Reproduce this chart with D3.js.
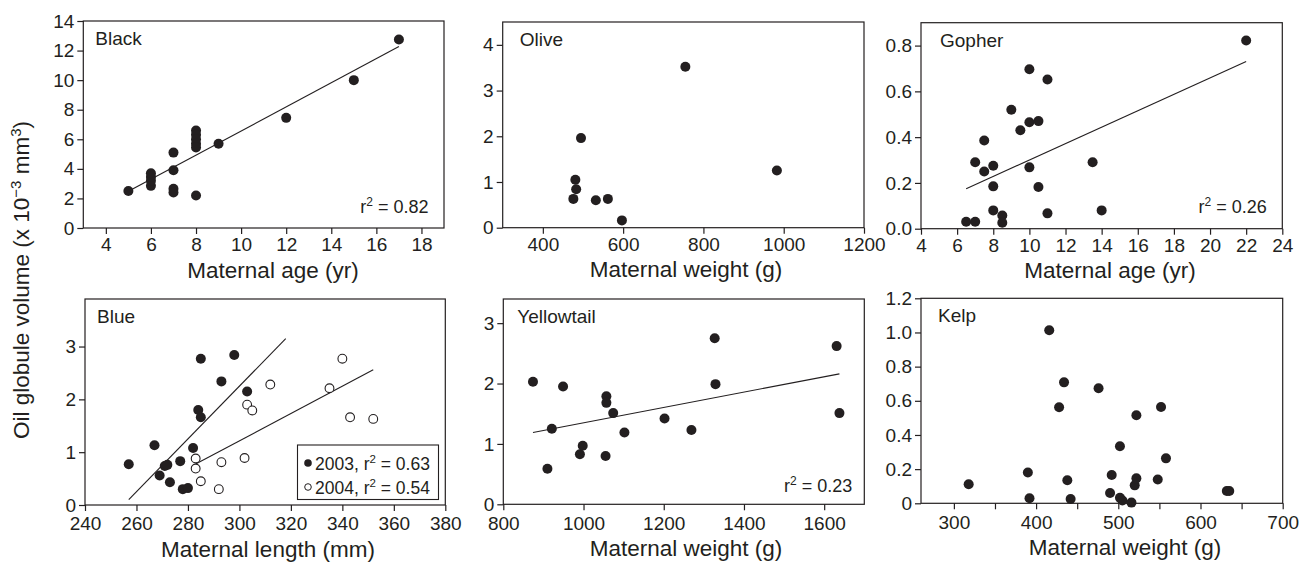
<!DOCTYPE html>
<html>
<head>
<meta charset="utf-8">
<script src="https://cdn.jsdelivr.net/npm/d3@7"></script>
<style>
  body { margin: 0; background: #fff; }
  svg text { font-family: "Liberation Sans", Arial, sans-serif; fill: #231f20; }
</style>
</head>
<body>
<svg id="chart" width="1308" height="563"></svg>
<script>
// ---- data ----
const blackAge = [5, 6, 6, 6, 6, 7, 7, 7, 7, 8, 8, 8, 8, 8, 8, 9, 12, 15, 17];
const blackVol = [2.5, 2.85, 3.2, 3.45, 3.7, 5.1, 3.9, 2.65, 2.4, 6.6, 6.3, 6.0, 5.7, 5.45, 2.2, 5.7, 7.45, 10.0, 12.75];
const blackLine = { x: [5, 17], y: [2.48, 12.27] };

const oliveWeight = [476, 481, 483, 495, 532, 562, 597, 755, 983];
const oliveVol = [0.63, 1.05, 0.84, 1.96, 0.6, 0.63, 0.16, 3.52, 1.25];

const gopherAge = [6.5, 7, 7, 7.5, 7.5, 8, 8, 8, 8.5, 8.5, 9, 9.5, 10, 10, 10, 10.5, 10.5, 11, 11, 13.5, 14, 22];
const gopherVol = [0.03, 0.03, 0.29, 0.385, 0.25, 0.275, 0.185, 0.08, 0.058, 0.026, 0.52, 0.43, 0.697, 0.465, 0.268, 0.47, 0.182, 0.652, 0.067, 0.29, 0.08, 0.822];
const gopherLine = { x: [6.5, 22], y: [0.175, 0.73] };

const blue2003Len = [257, 267, 269, 271, 272, 273, 277, 278, 280, 282, 284, 285, 285, 293, 298, 303];
const blue2003Vol = [0.77, 1.13, 0.56, 0.74, 0.76, 0.43, 0.83, 0.3, 0.32, 1.08, 1.8, 1.66, 2.77, 2.34, 2.84, 2.15];
const blue2004Len = [283, 283, 285, 292, 293, 302, 303, 305, 312, 335, 340, 343, 352];
const blue2004Vol = [0.88, 0.69, 0.45, 0.3, 0.81, 0.89, 1.9, 1.79, 2.28, 2.21, 2.77, 1.66, 1.63];
const blue2003Line = { x: [257, 318], y: [0.1, 3.15] };
const blue2004Line = { x: [283, 352], y: [0.775, 2.56] };

const yellowWeight = [874, 910, 921, 949, 991, 998, 1055, 1057, 1057, 1074, 1102, 1202, 1269, 1327, 1329, 1631, 1638];
const yellowVol = [2.03, 0.59, 1.25, 1.95, 0.83, 0.97, 0.8, 1.79, 1.68, 1.51, 1.19, 1.42, 1.23, 2.75, 1.99, 2.62, 1.51];
const yellowLine = { x: [874, 1638], y: [1.19, 2.16] };

const kelpWeight = [318, 390, 392, 416, 428, 434, 438, 442, 476, 490, 492, 502, 502, 505, 516, 520, 522, 522, 548, 552, 558, 632, 635];
const kelpVol = [0.111, 0.18, 0.03, 1.013, 0.562, 0.708, 0.135, 0.025, 0.673, 0.06, 0.166, 0.334, 0.033, 0.016, 0.004, 0.105, 0.146, 0.515, 0.139, 0.564, 0.263, 0.072, 0.072];

// tick labels
const blackXTicks = [4, 6, 8, 10, 12, 14, 16, 18];
const blackYTicks = [0, 2, 4, 6, 8, 10, 12, 14];
const oliveXTicks = [400, 600, 800, 1000, 1200];
const oliveYTicks = [0, 1, 2, 3, 4];
const gopherXTicks = [4, 6, 8, 10, 12, 14, 16, 18, 20, 22, 24];
const gopherYTicks = [0, 0.2, 0.4, 0.6, 0.8];
const blueXTicks = [240, 260, 280, 300, 320, 340, 360, 380];
const blueYTicks = [0, 1, 2, 3];
const yellowXTicks = [800, 1000, 1200, 1400, 1600];
const yellowYTicks = [0, 1, 2, 3];
const kelpXTicks = [300, 350, 400, 450, 500, 550, 600, 650, 700];
const kelpYTicks = [0, 0.2, 0.4, 0.6, 0.8, 1.0, 1.2];

const svg = d3.select("#chart");
const ink = "#231f20";

const panels = [
  { name: "Black", box: [83.3, 21, 444, 228], xd: [3, 19], yd: [0, 14], xt: blackXTicks, yt: blackYTicks,
    yf: d3.format("d"), title: "Maternal age (yr)", titleX: 273, labelX: 12, r2: "0.82", row: 0,
    series: [{ x: blackAge, y: blackVol, open: false }], lines: [blackLine] },
  { name: "Olive", box: [502.7, 22, 864, 227.7], xd: [300, 1200], yd: [0, 4.5], xt: oliveXTicks, yt: oliveYTicks,
    yf: d3.format("d"), title: "Maternal weight (g)", titleX: 686, labelX: 17, row: 0,
    series: [{ x: oliveWeight, y: oliveVol, open: false }], lines: [] },
  { name: "Gopher", box: [921, 22.7, 1282.3, 228.7], xd: [4, 24], yd: [0, 0.9], xt: gopherXTicks, yt: gopherYTicks,
    yf: d3.format(".1f"), title: "Maternal age (yr)", titleX: 1110, labelX: 19, r2: "0.26", row: 0,
    series: [{ x: gopherAge, y: gopherVol, open: false }], lines: [gopherLine] },
  { name: "Blue", box: [85, 299, 445.3, 505], xd: [240, 380], yd: [0, 3.9], xt: blueXTicks, yt: blueYTicks,
    yf: d3.format("d"), title: "Maternal length (mm)", titleX: 268, labelX: 12, row: 1,
    series: [{ x: blue2003Len, y: blue2003Vol, open: false }, { x: blue2004Len, y: blue2004Vol, open: true }],
    lines: [blue2003Line, blue2004Line], legend: true },
  { name: "Yellowtail", box: [503.3, 299, 864.3, 504.3], xd: [800, 1700], yd: [0, 3.4], xt: yellowXTicks, yt: yellowYTicks,
    yf: d3.format("d"), title: "Maternal weight (g)", titleX: 686, labelX: 14, r2: "0.23", r2Pad: 12, row: 1,
    series: [{ x: yellowWeight, y: yellowVol, open: false }], lines: [yellowLine] },
  { name: "Kelp", box: [921, 298.3, 1282.7, 503.3], xd: [260, 700], yd: [0, 1.2], xt: kelpXTicks, yt: kelpYTicks,
    yf: d => d === 0 ? "0" : d3.format(".1f")(d), xf: d => d % 100 === 0 ? d : "",
    title: "Maternal weight (g)", titleX: 1125, labelX: 17, row: 1,
    series: [{ x: kelpWeight, y: kelpVol, open: false }], lines: [] }
];

panels.forEach(p => {
  const [x0, y0, x1, y1] = p.box;
  const x = d3.scaleLinear().domain(p.xd).range([x0, x1]);
  const y = d3.scaleLinear().domain(p.yd).range([y1, y0]);
  const g = svg.append("g");

  // frame
  g.append("rect")
    .attr("x", x0).attr("y", y0)
    .attr("width", x1 - x0).attr("height", y1 - y0)
    .attr("fill", "none").attr("stroke", ink).attr("stroke-width", 1.2);

  const xAxis = d3.axisBottom(x).tickValues(p.xt).tickSize(6).tickPadding(p.row ? 6 : 4)
    .tickFormat(p.xf || d3.format("d"));
  const gx = g.append("g").attr("transform", `translate(0,${y1})`).call(xAxis);
  const yAxis = d3.axisLeft(y).tickValues(p.yt).tickSize(6).tickPadding(3).tickFormat(p.yf);
  const gy = g.append("g").attr("transform", `translate(${x0},0)`).call(yAxis);
  [gx, gy].forEach(a => {
    a.select(".domain").remove();
    a.selectAll("line").attr("stroke", ink).attr("stroke-width", 1.2);
    a.selectAll("text").attr("font-size", 19).attr("font-family", null).style("fill", ink);
  });

  // regression lines
  p.lines.forEach(l => {
    g.append("line")
      .attr("x1", x(l.x[0])).attr("y1", y(l.y[0]))
      .attr("x2", x(l.x[1])).attr("y2", y(l.y[1]))
      .attr("stroke", ink).attr("stroke-width", 1.1);
  });

  // points
  p.series.forEach(s => {
    g.append("g").selectAll("circle")
      .data(s.x.map((v, i) => [v, s.y[i]]))
      .join("circle")
      .attr("cx", d => x(d[0])).attr("cy", d => y(d[1]))
      .attr("r", s.open ? 4.4 : 5)
      .attr("fill", s.open ? "#fff" : ink)
      .attr("stroke", ink).attr("stroke-width", s.open ? 1.1 : 0);
  });

  // panel label
  g.append("text").attr("x", x0 + p.labelX).attr("y", y0 + 24)
    .attr("font-size", 19).text(p.name);

  // x title
  g.append("text").attr("x", p.titleX).attr("y", y1 + (p.row ? 52 : 49.5))
    .attr("text-anchor", "middle").attr("font-size", 22.5).text(p.title);

  // r squared
  if (p.r2) {
    const pad = p.r2Pad || 15.5;
    const t = g.append("text").attr("x", x1 - pad).attr("y", y1 - pad)
      .attr("text-anchor", "end").attr("font-size", 18);
    t.append("tspan").text("r");
    t.append("tspan").attr("dy", -7).attr("font-size", 12).text("2");
    t.append("tspan").attr("dy", 7).text(" = " + p.r2);
  }

  if (p.legend) {
    const lg = g.append("g");
    lg.append("rect").attr("x", 297.5).attr("y", 445).attr("width", 141).attr("height", 54.5)
      .attr("fill", "#fff").attr("stroke", ink).attr("stroke-width", 1.1);
    const rows = [["2003", "0.63", false], ["2004", "0.54", true]];
    rows.forEach((r, i) => {
      const cy = 463 + i * 24;
      lg.append("circle").attr("cx", 308).attr("cy", cy).attr("r", r[2] ? 3.3 : 3.8)
        .attr("fill", r[2] ? "#fff" : ink).attr("stroke", ink).attr("stroke-width", r[2] ? 1 : 0);
      const t = lg.append("text").attr("x", 315).attr("y", cy + 6.5).attr("font-size", 17.5);
      t.append("tspan").text(r[0] + ", r");
      t.append("tspan").attr("dy", -7).attr("font-size", 11.5).text("2");
      t.append("tspan").attr("dy", 7).text(" = " + r[1]);
    });
  }
});

// shared y title
const yt = svg.append("text")
  .attr("transform", "translate(29,280) rotate(-90)")
  .attr("text-anchor", "middle").attr("font-size", 22.5);
yt.append("tspan").text("Oil globule volume (x 10");
yt.append("tspan").attr("dy", -8).attr("font-size", 15).text("\u22123");
yt.append("tspan").attr("dy", 8).text(" mm");
yt.append("tspan").attr("dy", -8).attr("font-size", 15).text("3");
yt.append("tspan").attr("dy", 8).text(")");
</script>
</body>
</html>
